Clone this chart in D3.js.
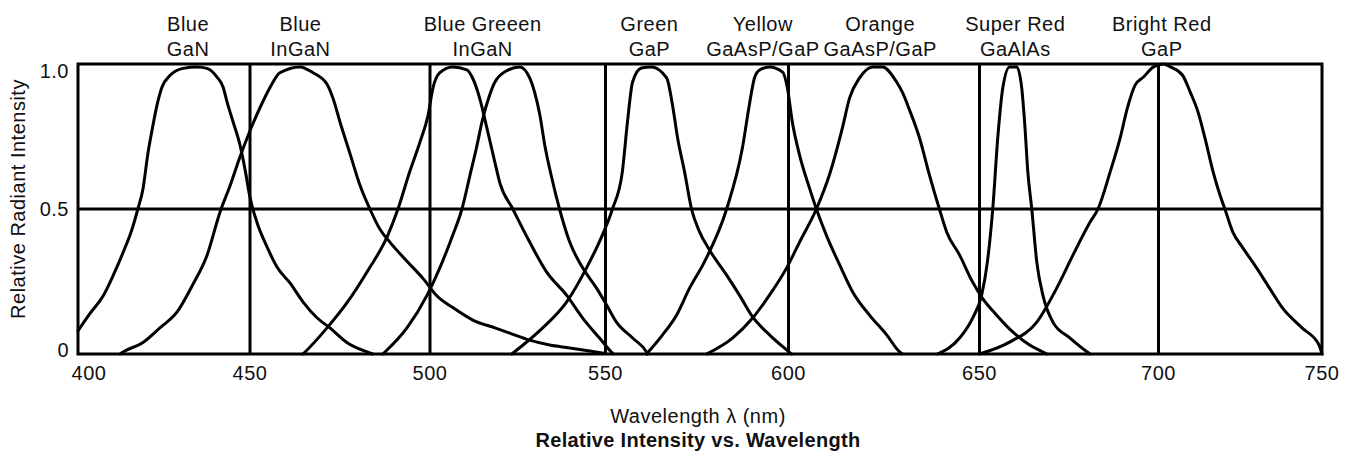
<!DOCTYPE html>
<html>
<head>
<meta charset="utf-8">
<script src="https://cdn.jsdelivr.net/npm/d3@7"></script>
<style>
  html, body { margin: 0; padding: 0; background: #fff; }
  svg { display: block; }
  text { font-family: "Liberation Sans", Arial, sans-serif; fill: #111; }
</style>
</head>
<body>
<svg id="chart" width="1355" height="453"></svg>
<script>
// ---------- data ----------
const wavelengthTicks = [400, 450, 500, 550, 600, 650, 700, 750];
const intensityTicks = [0, 0.5, 1.0];
const intensityTickLabels = ["0", "0.5", "1.0"];

const ledColourNames = ["Blue", "Blue", "Blue Greeen", "Green", "Yellow", "Orange", "Super Red", "Bright Red"];
const ledMaterials   = ["GaN", "InGaN", "InGaN", "GaP", "GaAsP/GaP", "GaAsP/GaP", "GaAlAs", "GaP"];
const ledPeakWavelengths = [432, 464, 515, 562, 593, 624, 660, 701];

const blueGaN = [[400,0.08],[403.5,0.14],[407.3,0.20],[410.2,0.27],[413.1,0.35],[415.7,0.43],[417.4,0.50],[418.9,0.57],[420.3,0.69],[421.5,0.77],[423,0.86],[424.4,0.92],[426.7,0.96],[430.5,0.985],[434.6,0.99],[437.5,0.985],[440.4,0.955],[442.2,0.92],[443.3,0.87],[445.1,0.80],[447.1,0.72],[448.5,0.64],[450,0.54],[451.9,0.455],[454.7,0.37],[457.5,0.30],[461.1,0.245],[464.7,0.18],[468.6,0.125],[472.2,0.09],[476.9,0.04],[482.5,0.007],[484,0]];
const blueInGaN = [[412.2,0],[413.1,0.007],[418.9,0.04],[423.8,0.09],[428.8,0.145],[433.4,0.24],[437.5,0.34],[441.3,0.49],[444.2,0.58],[447.1,0.68],[450,0.77],[452.8,0.85],[455.6,0.92],[458.3,0.97],[463.9,0.99],[467.5,0.97],[471.4,0.93],[473.1,0.88],[475,0.80],[477.8,0.69],[480.6,0.58],[483.3,0.50],[486.1,0.43],[488.9,0.385],[493.6,0.32],[498.1,0.26],[502,0.20],[506.5,0.16],[512.2,0.117],[518.5,0.09],[522.7,0.072],[528.4,0.048],[534.1,0.031],[539.8,0.021],[545.5,0.01],[550,0.002]];
const blueGreenInGaN1 = [[464.7,0],[465.3,0.007],[471.4,0.09],[476.9,0.176],[482.5,0.283],[488.3,0.41],[491.1,0.50],[494.4,0.63],[497.2,0.73],[499.4,0.82],[500.9,0.92],[502.8,0.97],[506.5,0.99],[510.5,0.98],[512.2,0.95],[514.2,0.88],[516.2,0.78],[518.5,0.66],[519.9,0.59],[523.6,0.50],[528.4,0.386],[533.2,0.283],[538.9,0.203],[543.5,0.124],[548.3,0.055],[551.6,0.007],[552.2,0]];
const blueGreenInGaN2 = [[486.9,0],[487.5,0.007],[493.6,0.09],[499.2,0.203],[502.8,0.297],[506.5,0.41],[509.1,0.50],[511.4,0.617],[513.4,0.72],[514.8,0.80],[517,0.893],[518.5,0.938],[522.2,0.979],[525.6,0.99],[528.4,0.952],[529.8,0.903],[531.3,0.824],[532.7,0.72],[534.7,0.607],[536.9,0.50],[539.8,0.386],[543.5,0.297],[547.4,0.228],[550.3,0.169],[553,0.11],[557.4,0.055],[561.2,0.007],[561.5,0]];
const greenGaP = [[523.3,0],[532.1,0.09],[538.9,0.179],[544.6,0.297],[549.1,0.41],[551.9,0.50],[554.6,0.628],[556,0.80],[557.4,0.938],[559.8,0.986],[562.6,0.99],[566.7,0.952],[568.3,0.859],[569.7,0.745],[571.6,0.628],[573.5,0.50],[575.7,0.421],[578.4,0.359],[583.1,0.272],[586.6,0.203],[590.2,0.128],[594.8,0.066],[599.5,0.014],[600.8,0]];
const yellowGaAsP = [[561.2,0],[565.6,0.066],[569.4,0.134],[573,0.228],[577,0.317],[583.1,0.50],[587.4,0.71],[589.3,0.859],[590.7,0.952],[592.1,0.979],[594.8,0.99],[598.4,0.972],[599.7,0.917],[601,0.80],[602.9,0.686],[605.5,0.572],[607.3,0.50],[609.9,0.41],[613.4,0.307],[616.8,0.214],[621.2,0.134],[625.7,0.066],[629.1,0.007],[629.8,0]];
const orangeGaAsP = [[577.6,0],[584.7,0.055],[590.2,0.124],[594.8,0.203],[599.5,0.297],[602.9,0.386],[607.3,0.50],[610.7,0.617],[614.1,0.779],[616,0.883],[618.6,0.952],[622,0.99],[624.6,0.99],[628.3,0.938],[629.8,0.903],[631.7,0.841],[634.3,0.745],[636.9,0.617],[639.5,0.50],[641.4,0.421],[644.8,0.341],[648.2,0.248],[650.8,0.193],[654.8,0.134],[659.3,0.076],[664,0.031],[667.7,0.007],[668.8,0]];
const superRedGaAlAs = [[639,0],[644.8,0.055],[648.2,0.124],[650.6,0.203],[652.2,0.317],[653.7,0.50],[655.1,0.745],[656.5,0.917],[658.4,0.99],[660.4,0.99],[661.8,0.917],[662.6,0.80],[663.5,0.628],[664.6,0.50],[666,0.317],[667.7,0.203],[670.5,0.11],[675.3,0.055],[680.1,0.007],[680.9,0]];
const brightRedGaP = [[650,0],[658.4,0.041],[666,0.11],[671.6,0.228],[676.1,0.341],[680.9,0.455],[683.1,0.50],[686.5,0.628],[689.3,0.745],[691.3,0.848],[693.5,0.928],[695.8,0.955],[698.6,0.99],[701.5,1.0],[703.6,0.99],[707.3,0.962],[709.7,0.903],[712.1,0.834],[714.2,0.745],[716.7,0.628],[718.8,0.548],[720.3,0.50],[722.7,0.421],[725.8,0.366],[730,0.297],[733.9,0.228],[737.9,0.159],[743.9,0.09],[749.1,0.031],[750,0]];

const allSeries = [blueGaN, blueInGaN, blueGreenInGaN1, blueGreenInGaN2, greenGaP, yellowGaAsP, orangeGaAsP, superRedGaAlAs, brightRedGaP];

// ---------- layout ----------
const plotLeft = 78, plotRight = 1322, plotTop = 64, plotBottom = 354;
// the hand-drawn reference grid is slightly uneven: piecewise linear scale
const gridPx = [78, 250, 430, 605.5, 788.5, 979.5, 1158.5, 1322];
const x = d3.scaleLinear().domain(wavelengthTicks).range(gridPx);
const y = d3.scaleLinear().domain([0, 1]).range([plotBottom, plotTop]);

const svg = d3.select("#chart");
const fontSize = 20;
const ls = "0.5px";

// grid lines
svg.append("g").selectAll("line.v")
  .data(wavelengthTicks.slice(1, -1))
  .join("line")
  .attr("x1", d => x(d)).attr("x2", d => x(d))
  .attr("y1", plotTop).attr("y2", plotBottom)
  .attr("stroke", "#000").attr("stroke-width", 3);
svg.append("g").selectAll("line.h")
  .data(intensityTicks.slice(1, -1))
  .join("line")
  .attr("x1", plotLeft).attr("x2", plotRight)
  .attr("y1", d => y(d)).attr("y2", d => y(d))
  .attr("stroke", "#000").attr("stroke-width", 3);

// curves
const line = d3.line().x(d => x(d[0])).y(d => y(d[1])).curve(d3.curveMonotoneX);
svg.append("g").selectAll("path")
  .data(allSeries)
  .join("path")
  .attr("d", line)
  .attr("fill", "none")
  .attr("stroke", "#000")
  .attr("stroke-width", 3)
  .attr("stroke-linejoin", "round")
  .attr("stroke-linecap", "round");

// frame
svg.append("rect")
  .attr("x", plotLeft).attr("y", plotTop)
  .attr("width", plotRight - plotLeft).attr("height", plotBottom - plotTop)
  .attr("fill", "none").attr("stroke", "#000").attr("stroke-width", 3);

// x tick labels
svg.append("g").selectAll("text")
  .data(wavelengthTicks)
  .join("text")
  .attr("x", d => Math.max(x(d), plotLeft + 11))
  .attr("y", plotBottom + 26)
  .attr("text-anchor", "middle")
  .attr("font-size", fontSize)
  .style("letter-spacing", ls)
  .text(d => d);

// y tick labels
svg.append("g").selectAll("text")
  .data(intensityTicks)
  .join("text")
  .attr("x", plotLeft - 9)
  .attr("y", d => Math.min(Math.max(y(d), plotTop + 7), plotBottom - 4))
  .attr("dy", "0.35em")
  .attr("text-anchor", "end")
  .attr("font-size", fontSize)
  .style("letter-spacing", ls)
  .text((d, i) => intensityTickLabels[i]);

// LED labels (two rows)
const labels = svg.append("g");
labels.selectAll("text.c")
  .data(ledColourNames)
  .join("text")
  .attr("x", (d, i) => x(ledPeakWavelengths[i]))
  .attr("y", 31)
  .attr("text-anchor", "middle")
  .attr("font-size", fontSize)
  .style("letter-spacing", ls)
  .text(d => d);
labels.selectAll("text.m")
  .data(ledMaterials)
  .join("text")
  .attr("x", (d, i) => x(ledPeakWavelengths[i]))
  .attr("y", 56)
  .attr("text-anchor", "middle")
  .attr("font-size", fontSize)
  .style("letter-spacing", ls)
  .text(d => d);

// axis titles
svg.append("text")
  .attr("transform", `translate(25,${(plotTop + plotBottom) / 2 - 10}) rotate(-90)`)
  .attr("text-anchor", "middle")
  .attr("font-size", fontSize)
  .style("letter-spacing", ls)
  .text("Relative Radiant Intensity");

svg.append("text")
  .attr("x", 698).attr("y", 423)
  .attr("text-anchor", "middle")
  .attr("font-size", fontSize)
  .style("letter-spacing", ls)
  .text("Wavelength λ (nm)");

svg.append("text")
  .attr("x", 698).attr("y", 447)
  .attr("text-anchor", "middle")
  .attr("font-size", fontSize)
  .attr("font-weight", "bold")
  .style("letter-spacing", "0.3px")
  .text("Relative Intensity vs. Wavelength");
</script>
</body>
</html>
